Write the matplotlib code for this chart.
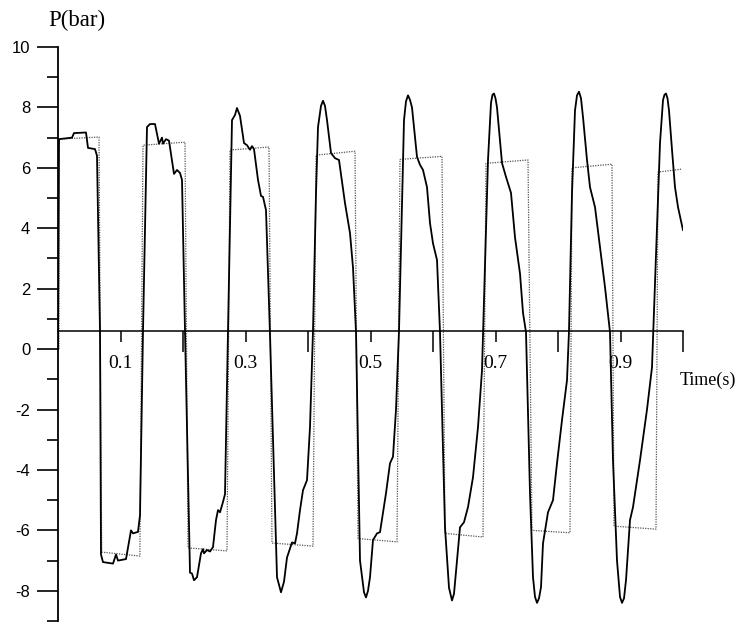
import matplotlib.pyplot as plt
from matplotlib.ticker import MultipleLocator, FixedLocator

plt.rcParams['axes.unicode_minus'] = False

# measured pressure (solid)
t_meas = [0.0, 0.0016, 0.0224, 0.0256, 0.0448, 0.048, 0.0592, 0.0624, 0.0672, 0.0688,
          0.072, 0.088, 0.0928, 0.096, 0.1088, 0.1168, 0.12, 0.128, 0.1312, 0.136,
          0.1424, 0.1472, 0.1552, 0.1616, 0.1664, 0.168, 0.1728, 0.1776, 0.1856, 0.1904,
          0.1952, 0.1984, 0.2032, 0.2112, 0.2144, 0.2176, 0.2224, 0.2288, 0.232, 0.2336,
          0.2384, 0.2432, 0.248, 0.2528, 0.256, 0.2592, 0.264, 0.2672, 0.272, 0.2784,
          0.2832, 0.2864, 0.2912, 0.2976, 0.3024, 0.304, 0.3072, 0.3104, 0.3136, 0.32,
          0.3248, 0.328, 0.3328, 0.339, 0.3504, 0.3568, 0.3616, 0.3664, 0.3744, 0.3792,
          0.3824, 0.3872, 0.392, 0.3984, 0.4032, 0.408, 0.4128, 0.416, 0.4208, 0.424,
          0.4272, 0.4304, 0.4368, 0.4432, 0.4496, 0.4592, 0.4672, 0.472, 0.4768, 0.4832,
          0.4896, 0.4928, 0.496, 0.4992, 0.504, 0.5104, 0.5152, 0.5248, 0.5312, 0.536,
          0.5408, 0.5456, 0.5536, 0.5568, 0.56, 0.5632, 0.5664, 0.5744, 0.5792, 0.584,
          0.5904, 0.5952, 0.6, 0.6064, 0.6112, 0.6192, 0.6256, 0.6304, 0.6336, 0.6384,
          0.6432, 0.6496, 0.656, 0.664, 0.672, 0.6784, 0.688, 0.6928, 0.6952, 0.6976,
          0.7, 0.7024, 0.7104, 0.7168, 0.7248, 0.7312, 0.7392, 0.744, 0.7488, 0.7552,
          0.76, 0.7632, 0.7664, 0.7696, 0.7728, 0.776, 0.784, 0.792, 0.7984, 0.8064,
          0.8144, 0.8176, 0.8224, 0.8272, 0.8304, 0.8336, 0.8368, 0.84, 0.8464, 0.8512,
          0.8592, 0.8672, 0.8752, 0.8832, 0.888, 0.8944, 0.8992, 0.9024, 0.9056, 0.9088,
          0.9152, 0.92, 0.9312, 0.9424, 0.9504, 0.9584, 0.9632, 0.968, 0.9704, 0.9728,
          0.9752, 0.9776, 0.9824, 0.9872, 0.992, 1.0]
p_meas = [0.0, 6.95, 7.0, 7.15, 7.17, 6.66, 6.62, 6.4, 0.6, -6.8,
          -7.05, -7.1, -6.8, -7.0, -6.95, -6.0, -6.1, -6.05, -5.5, 0.6,
          7.35, 7.45, 7.45, 6.8, 7.0, 6.8, 6.95, 6.9, 5.8, 5.93,
          5.83, 5.6, 0.6, -7.4, -7.43, -7.65, -7.55, -6.76, -6.62, -6.76,
          -6.65, -6.7, -6.55, -5.66, -5.33, -5.4, -5.06, -4.8, 0.6, 7.58,
          7.75, 7.98, 7.72, 6.82, 6.75, 6.7, 6.6, 6.72, 6.62, 5.6,
          5.07, 5.04, 4.6, 0.6, -7.55, -8.05, -7.7, -6.9, -6.4, -6.43,
          -6.1, -5.33, -4.67, -4.34, -2.58, 0.6, 5.17, 7.35, 8.05, 8.22,
          8.05, 7.58, 6.49, 6.32, 6.26, 4.83, 3.84, 2.7, 0.56, -7.0,
          -8.05, -8.22, -8.0, -7.55, -6.32, -6.1, -6.06, -4.77, -3.78, -3.56,
          -2.0, 0.6, 7.58, 8.2, 8.4, 8.25, 8.0, 6.36, 6.1, 5.93,
          5.36, 4.17, 3.5, 2.95, 0.56, -5.9, -7.9, -8.32, -8.1, -7.0,
          -5.9, -5.73, -5.23, -4.24, -2.58, -0.7, 6.26, 8.15, 8.42, 8.46,
          8.3, 8.0, 6.16, 5.7, 5.17, 3.7, 2.5, 1.2, 0.56, -4.77,
          -7.55, -8.2, -8.4, -8.25, -7.88, -6.43, -5.4, -5.0, -3.78, -2.35,
          -1.03, 0.6, 5.17, 7.9, 8.4, 8.52, 8.3, 7.68, 6.26, 5.36,
          4.7, 3.38, 2.05, 0.56, -3.7, -7.0, -8.2, -8.4, -8.25, -7.65,
          -5.66, -5.23, -3.68, -2.0, -0.6, 4.04, 6.82, 8.24, 8.42, 8.46,
          8.3, 7.9, 6.6, 5.36, 4.7, 3.94]

# ideal square wave (dotted): start/end time and level at start/end of each plateau
sq_t0 = [0.0016, 0.0699, 0.136, 0.208, 0.2752, 0.3424, 0.4128, 0.48,
         0.5472, 0.6192, 0.6848, 0.7584, 0.8224, 0.8896, 0.96]
sq_t1 = [0.0656, 0.131, 0.2032, 0.2704, 0.3376, 0.408, 0.4752, 0.5424,
         0.6144, 0.68, 0.752, 0.8192, 0.8864, 0.9568, 0.9984]
sq_p0 = [6.95, -6.72, 6.75, -6.58, 6.59, -6.42, 6.42, -6.27,
         6.28, -6.1, 6.15, -6.0, 6.0, -5.86, 5.86]
sq_p1 = [7.02, -6.85, 6.85, -6.68, 6.69, -6.52, 6.55, -6.38,
         6.38, -6.22, 6.26, -6.08, 6.12, -5.96, 5.96]

x_labels = ['0.1', '0.3', '0.5', '0.7', '0.9']
x_label_pos = [0.1, 0.3, 0.5, 0.7, 0.9]

sq_t = [sq_t0[0]]
sq_p = [0.0]
for a, b, pa, pb in zip(sq_t0, sq_t1, sq_p0, sq_p1):
    sq_t += [a, b]
    sq_p += [pa, pb]

fig = plt.figure(figsize=(7.39, 6.29), dpi=100)
W, H = 739, 629
ax = fig.add_axes([58 / W, 1 - 621 / H, (683 - 58) / W, (621 - 47) / H])
ax.set_xlim(0, 1.0)
ax.set_ylim(-9, 10)

ax.plot(sq_t, sq_p, color='#555555', lw=0.9, linestyle=(0, (1, 1)))
ax.plot(t_meas, p_meas, color='black', lw=1.3)

for s in ['top', 'right']:
    ax.spines[s].set_visible(False)
ax.spines['left'].set_linewidth(1.3)
ax.spines['bottom'].set_position(('data', 0.6))
ax.spines['bottom'].set_linewidth(1.1)

ax.yaxis.set_major_locator(MultipleLocator(2))
ax.yaxis.set_minor_locator(FixedLocator(list(range(-9, 10, 2))))
ax.tick_params(axis='y', which='major', length=15, width=1.2, pad=5, labelsize=12)
ax.tick_params(axis='y', which='minor', length=8, width=1.2)
for lb in ax.get_yticklabels():
    lb.set_fontfamily('Liberation Sans')

ax.xaxis.set_major_locator(FixedLocator(x_label_pos))
ax.set_xticklabels(x_labels, fontfamily='Liberation Serif', fontsize=14)
ax.xaxis.set_minor_locator(FixedLocator([0.2, 0.4, 0.6, 0.8, 1.0]))
ax.tick_params(axis='x', which='major', length=8, width=1.1, pad=9)
ax.tick_params(axis='x', which='minor', length=15, width=1.1)

fig.text(48 / W, 1 - 20 / H, 'P(bar)', fontfamily='Liberation Serif', fontsize=16.5,
         ha='left', va='center')
fig.text(680 / W, 1 - 380 / H, 'Time(s)', fontfamily='Liberation Serif', fontsize=13,
         ha='left', va='center')

fig.savefig('out.png', dpi=100)
